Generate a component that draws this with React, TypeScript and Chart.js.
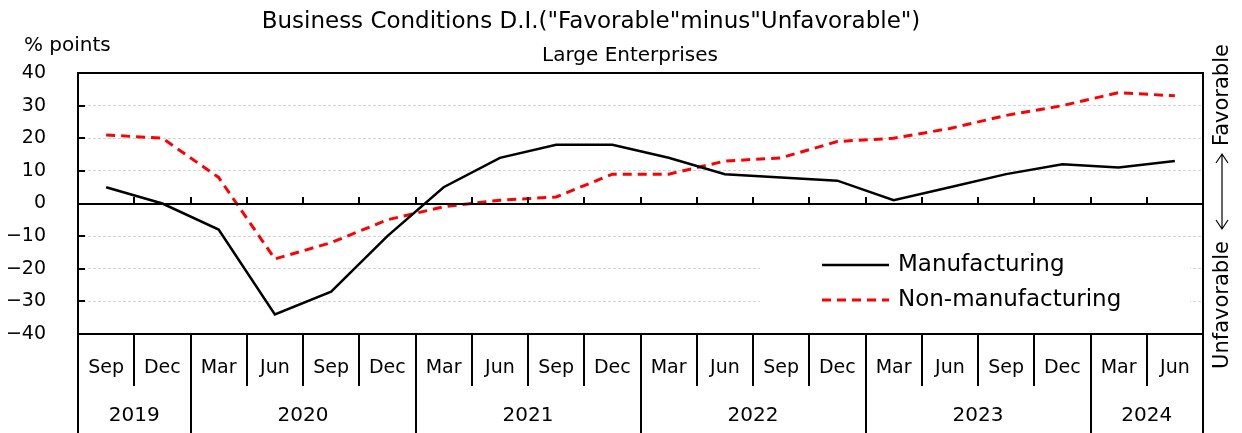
import React, { useEffect, useRef } from 'react';
import { Chart, registerables } from 'chart.js';
Chart.register(...registerables);

const monthLabels = ['Sep', 'Dec', 'Mar', 'Jun', 'Sep', 'Dec', 'Mar', 'Jun', 'Sep', 'Dec', 'Mar', 'Jun', 'Sep', 'Dec', 'Mar', 'Jun', 'Sep', 'Dec', 'Mar', 'Jun'];
const yearLabels = ['2019', '2020', '2021', '2022', '2023', '2024'];
const quartersPerYear = [2, 4, 4, 4, 4, 2];
const manufacturing = [5, 0, -8, -34, -27, -10, 5, 14, 18, 18, 14, 9, 8, 7, 1, 5, 9, 12, 11, 13];
const nonManufacturing = [21, 20, 8, -17, -12, -5, -1, 1, 2, 9, 9, 13, 14, 19, 20, 23, 27, 30, 34, 33];
const yMin = -40;
const yMax = 40;
const yStep = 10;

const titleText = 'Business Conditions D.I.("Favorable"minus"Unfavorable")';
const subtitleText = 'Large Enterprises';
const unitText = '% points';
const seriesNames = ['Manufacturing', 'Non-manufacturing'];

const FONT = '"DejaVu Sans", sans-serif';

const decor = {
  id: 'decor',
  beforeDatasetsDraw(chart: any) {
    const { ctx, chartArea: a } = chart;
    ctx.save();
    ctx.fillStyle = '#ffffff';
    ctx.fillRect(a.right - 443, a.bottom - 93, 430, 91);
    ctx.restore();
  },
  afterDraw(chart: any) {
    const { ctx, chartArea: a } = chart;
    const xs = chart.scales.x;
    const ys = chart.scales.y;
    const H = chart.height;
    ctx.save();
    ctx.strokeStyle = '#000';
    ctx.fillStyle = '#000';
    ctx.lineWidth = 2;
    ctx.strokeRect(a.left, a.top, a.right - a.left, a.bottom - a.top);
    const y0 = Math.round(ys.getPixelForValue(0));
    ctx.beginPath();
    ctx.moveTo(a.left, y0);
    ctx.lineTo(a.right, y0);
    ctx.stroke();
    for (let v = yMin + yStep; v < yMax; v += yStep) {
      const y = Math.round(ys.getPixelForValue(v));
      ctx.beginPath();
      ctx.moveTo(a.left, y);
      ctx.lineTo(a.left + 7, y);
      ctx.stroke();
    }
    const yearBounds = new Set<number>();
    let acc = 0;
    quartersPerYear.forEach((q) => { acc += q; yearBounds.add(acc); });
    const n = monthLabels.length;
    const boundary = (k: number) => {
      if (k === 0) return a.left;
      if (k === n) return a.right;
      return (xs.getPixelForValue(k - 1) + xs.getPixelForValue(k)) / 2;
    };
    for (let k = 1; k < n; k++) {
      const x = Math.round(boundary(k));
      ctx.beginPath();
      ctx.moveTo(x, y0);
      ctx.lineTo(x, y0 - 7);
      ctx.stroke();
      ctx.beginPath();
      ctx.moveTo(x, a.bottom);
      ctx.lineTo(x, yearBounds.has(k) ? H : a.bottom + 52);
      ctx.stroke();
    }
    ctx.beginPath();
    ctx.moveTo(a.left, a.bottom);
    ctx.lineTo(a.left, H);
    ctx.moveTo(a.right, a.bottom);
    ctx.lineTo(a.right, H);
    ctx.stroke();
    ctx.font = `19px ${FONT}`;
    ctx.textAlign = 'center';
    ctx.textBaseline = 'middle';
    monthLabels.forEach((m, i) => {
      ctx.fillText(m, xs.getPixelForValue(i), a.bottom + 34);
    });
    ctx.font = `20px ${FONT}`;
    let start = 0;
    yearLabels.forEach((yl, i) => {
      const end = start + quartersPerYear[i];
      const cx = (boundary(start) + boundary(end)) / 2;
      ctx.fillText(yl, cx, a.bottom + 82);
      start = end;
    });
    ctx.font = `23px ${FONT}`;
    ctx.fillText(titleText, 591, 22);
    ctx.font = `20px ${FONT}`;
    ctx.fillText(subtitleText, 630, 56);
    ctx.textAlign = 'left';
    ctx.fillText(unitText, 24, 46);
    const rx = 1223;
    ctx.font = `21px ${FONT}`;
    ctx.textAlign = 'center';
    ctx.save();
    ctx.translate(rx, 95);
    ctx.rotate(-Math.PI / 2);
    ctx.fillText('Favorable', 0, 0);
    ctx.restore();
    ctx.save();
    ctx.translate(rx, 305);
    ctx.rotate(-Math.PI / 2);
    ctx.fillText('Unfavorable', 0, 0);
    ctx.restore();
    ctx.lineWidth = 1.2;
    const ax = rx - 1;
    const at = 154;
    const ab = 229;
    ctx.beginPath();
    ctx.moveTo(ax, at);
    ctx.lineTo(ax, ab);
    ctx.moveTo(ax - 6, at + 9);
    ctx.lineTo(ax, at);
    ctx.lineTo(ax + 6, at + 9);
    ctx.moveTo(ax - 6, ab - 9);
    ctx.lineTo(ax, ab);
    ctx.lineTo(ax + 6, ab - 9);
    ctx.stroke();
    const ds = chart.data.datasets;
    const lx1 = 822;
    const lx2 = 889;
    const rows = [265, 300];
    ctx.font = `23px ${FONT}`;
    ctx.textAlign = 'left';
    ctx.textBaseline = 'middle';
    ds.forEach((d: any, i: number) => {
      ctx.save();
      ctx.strokeStyle = d.borderColor;
      ctx.lineWidth = d.borderWidth;
      ctx.setLineDash(d.borderDash || []);
      ctx.beginPath();
      ctx.moveTo(lx1, rows[i]);
      ctx.lineTo(lx2, rows[i]);
      ctx.stroke();
      ctx.restore();
      ctx.fillStyle = '#000';
      ctx.fillText(d.label, 898, rows[i]);
    });
    ctx.restore();
  },
};

export default function App() {
  const ref = useRef<HTMLCanvasElement>(null);
  useEffect(() => {
    document.body.style.margin = '0';
    const chart = new Chart(ref.current as HTMLCanvasElement, {
      type: 'line',
      data: {
        labels: monthLabels,
        datasets: [
          {
            label: seriesNames[0],
            data: manufacturing,
            borderColor: '#000000',
            borderWidth: 2.5,
            pointRadius: 0,
            tension: 0,
            fill: false,
          },
          {
            label: seriesNames[1],
            data: nonManufacturing,
            borderColor: '#ff0000',
            borderWidth: 3,
            borderDash: [9, 6],
            pointRadius: 0,
            tension: 0,
            fill: false,
          },
        ],
      },
      options: {
        animation: false,
        responsive: false,
        layout: { padding: { top: 73, bottom: 99, right: 39, left: 0 } },
        plugins: { legend: { display: false }, title: { display: false }, tooltip: { enabled: false } },
        scales: {
          x: {
            type: 'category',
            offset: true,
            display: true,
            grid: { display: false },
            border: { display: false },
            ticks: { display: false },
            afterFit: (s: any) => { s.height = 0; },
          },
          y: {
            min: yMin,
            max: yMax,
            grid: {
              drawTicks: false,
              color: (c: any) => {
                const v = c.tick && c.tick.value;
                return v === 0 || v === yMin || v === yMax ? 'rgba(0,0,0,0)' : '#d4d4d4';
              },
              lineWidth: 1,
            },
            border: { display: false, dash: [3, 2] },
            ticks: {
              stepSize: yStep,
              color: '#000',
              padding: 32,
              font: { family: FONT, size: 19 },
              callback: (v: any) => (Number(v) < 0 ? '\u2212' + Math.abs(Number(v)) : String(v)),
            },
            afterFit: (s: any) => { s.width = 78; },
          },
        },
      },
      plugins: [decor],
    });
    return () => chart.destroy();
  }, []);
  return <canvas ref={ref} width={1242} height={433} style={{ display: 'block' }} />;
}
